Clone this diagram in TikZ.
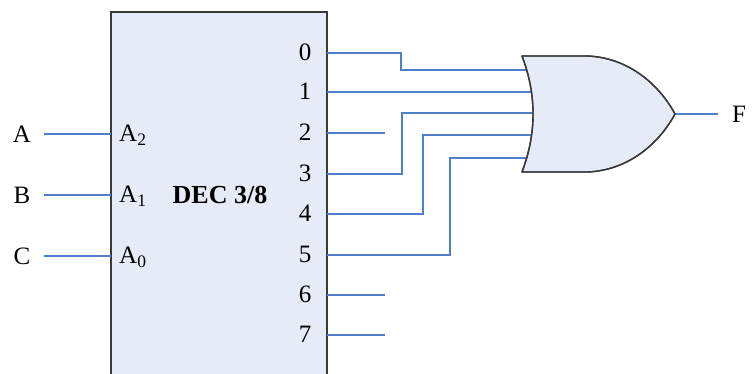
\documentclass[tikz,border=0pt]{standalone}
\usepackage{fontspec}
\setmainfont{Liberation Serif}
\definecolor{boxfill}{HTML}{E6ECF7}
\definecolor{wire}{HTML}{4F7FC9}
\definecolor{edge}{HTML}{3A3A3A}
\begin{document}
\begin{tikzpicture}[x=1pt,y=-1pt,
  lbl/.style={font=\fontsize{25}{27}\selectfont, inner sep=0pt},
  wireline/.style={draw=wire, line width=1.6pt},
  edgeline/.style={draw=edge, line width=1.4pt}]
\useasboundingbox (0,0) rectangle (753,374);
% decoder box
\fill[boxfill] (111,380) rectangle (327,12);
\draw[edgeline] (111,380) -- (111,12) -- (327,12) -- (327,380);
% OR gate
\path[fill=boxfill, edgeline, line join=round] (522,56) -- (588,56)
  .. controls (630,58) and (660,86) .. (675,114)
  .. controls (660,142) and (630,170) .. (588,172) -- (522,172)
  .. controls (536.7,133.3) and (536.7,94.7) .. cycle;
\coordinate (tip) at (675,114);
% gate inputs
\coordinate (g0) at (527,70);
\coordinate (g1) at (531.5,92);
\coordinate (g2) at (533,113);
\coordinate (g3) at (531.5,135);
\coordinate (g4) at (527,158);
% decoder pins
\foreach \i/\y in {0/53,1/92,2/133,3/174,4/214,5/255,6/295,7/335}{
  \coordinate (o\i) at (327,\y);
  \node[lbl] (l\i) at (305,\y-1) {\i};
}
\coordinate (iA) at (111,134);
\coordinate (iB) at (111,195);
\coordinate (iC) at (111,256);
% input labels
\node[lbl] (A) at (22,134) {A};
\node[lbl] (B) at (22,195) {B};
\node[lbl] (C) at (22,256) {C};
\coordinate (sA) at (44,134);
\coordinate (sB) at (44,195);
\coordinate (sC) at (44,256);
\node[lbl, anchor=west] (A2) at (119,135) {A\textsubscript{2}};
\node[lbl, anchor=west] (A1) at (119,196) {A\textsubscript{1}};
\node[lbl, anchor=west] (A0) at (119,257) {A\textsubscript{0}};
\node[lbl, font=\fontsize{26}{28}\selectfont\bfseries] (dec) at (220,195) {DEC 3/8};
\node[lbl] (F) at (739,114) {F};
\coordinate (fend) at (718,114);
% wires
\draw[wireline] (sA) -- (iA);
\draw[wireline] (sB) -- (iB);
\draw[wireline] (sC) -- (iC);
\draw[wireline] (o0) -- ++(74,0) |- (g0);
\draw[wireline] (o1) -- (g1);
\draw[wireline] (o2) -- ++(58,0);
\draw[wireline] (o3) -- ++(75,0) |- (g2);
\draw[wireline] (o4) -- ++(96,0) |- (g3);
\draw[wireline] (o5) -- ++(123,0) |- (g4);
\draw[wireline] (o6) -- ++(58,0);
\draw[wireline] (o7) -- ++(58,0);
\draw[wireline] (tip) -- (fend);
% redraw gate outline over wire ends
\draw[edgeline, line join=round] (522,56) -- (588,56)
  .. controls (630,58) and (660,86) .. (675,114)
  .. controls (660,142) and (630,170) .. (588,172) -- (522,172)
  .. controls (536.7,133.3) and (536.7,94.7) .. cycle;
\end{tikzpicture}
\end{document}
